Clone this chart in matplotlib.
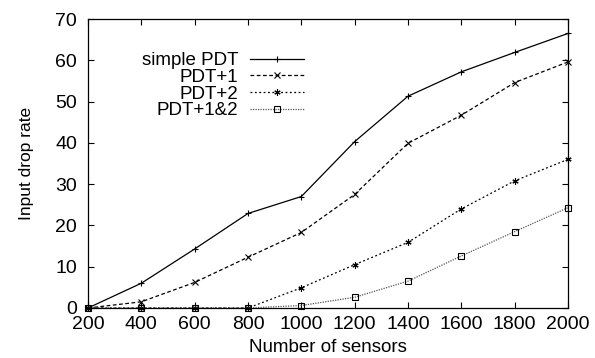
import matplotlib
matplotlib.use("Agg")
import matplotlib.pyplot as plt

plt.rcParams['font.family'] = ['Liberation Sans', 'DejaVu Sans']

sensors = [200, 400, 600, 800, 1000, 1200, 1400, 1600, 1800, 2000]
simple_pdt = [0, 6.0, 14.3, 22.9, 27.0, 40.3, 51.3, 57.2, 61.9, 66.5]
pdt_1 = [0, 1.5, 6.2, 12.3, 18.3, 27.5, 39.9, 46.7, 54.6, 59.6]
pdt_2 = [0, 0, 0, 0, 4.9, 10.5, 15.9, 24.0, 30.8, 36.0]
pdt_12 = [0, 0, 0, 0, 0.6, 2.6, 6.5, 12.6, 18.5, 24.3]

fig = plt.figure(figsize=(5.95, 3.58), dpi=100)
ax = fig.add_axes([88 / 595, 1 - 308 / 358, 480 / 595, 289 / 358])

ax.plot(sensors, simple_pdt, color='black', lw=0.9, ls='-', marker='+', ms=5, mew=0.8,
        label='simple PDT', clip_on=False)
ax.plot(sensors, pdt_1, color='black', lw=0.9, ls=(0, (3, 2)), marker='x', ms=4, mew=0.8,
        label='PDT+1', clip_on=False)
ax.plot(sensors, pdt_2, color='black', lw=0.9, ls=(0, (1.5, 2)), marker=(6, 2, 0), ms=4.5, mew=0.8,
        label='PDT+2', clip_on=False)
ax.plot(sensors, pdt_12, color='#555555', lw=0.9, ls=(0, (1, 1)), marker='s', ms=4, mew=0.8,
        mfc='none', mec='black', label='PDT+1&2', clip_on=False)

ax.set_xlim(200, 2000)
ax.set_ylim(0, 70)
ax.set_xticks(sensors)
ax.set_yticks(range(0, 71, 10))
ax.tick_params(direction='in', top=True, right=True, labelsize=14, length=4, width=0.8)
ax.tick_params(axis='x', pad=6)
ax.tick_params(axis='y', pad=8)
for s in ax.spines.values():
    s.set_linewidth(0.9)

ax.set_xlabel('Number of sensors', fontsize=13.5, labelpad=4)
ax.set_ylabel('Input drop rate', fontsize=12.5, labelpad=15)

# legend box in gnuplot style: label, then sample line
ax.legend(loc='upper right', bbox_to_anchor=((304 - 88) / 480, 1 - 33 / 289), frameon=False,
          markerfirst=False, fontsize=13.5, handlelength=2.9, labelspacing=-0.02,
          handletextpad=0.6, borderaxespad=0, borderpad=0)

fig.savefig('out.png', dpi=100)
